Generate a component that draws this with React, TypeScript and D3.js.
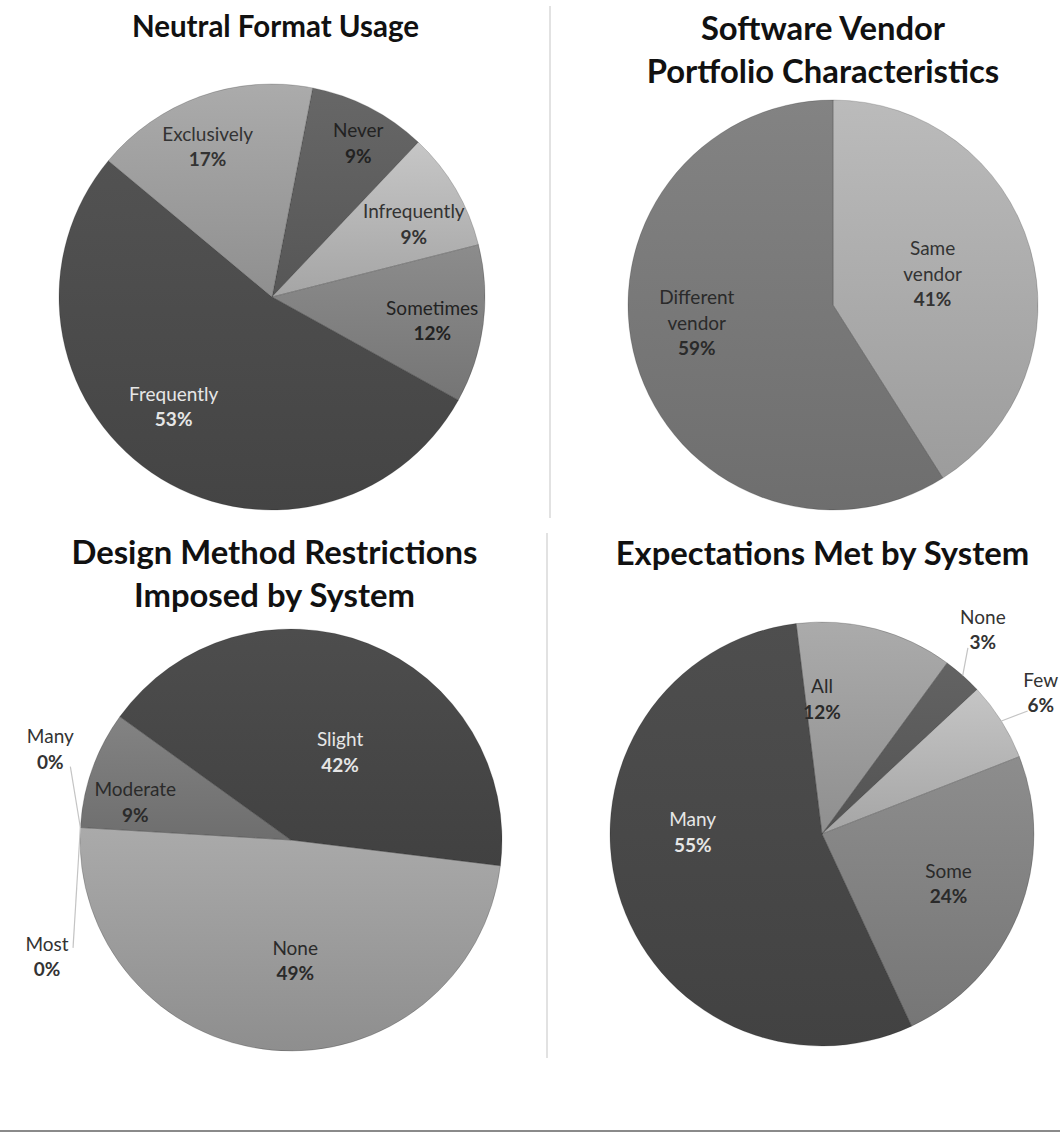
import React from "react";
import * as d3 from "d3";

// ---------- DATA ----------
const NFU_TITLE = ["Neutral Format Usage"];
const NFU_CATS = ["Never", "Infrequently", "Sometimes", "Frequently", "Exclusively"];
const NFU_VALUES = [9, 9, 12, 53, 17];

const SVP_TITLE = ["Software Vendor", "Portfolio Characteristics"];
const SVP_CATS = ["Same\nvendor", "Different\nvendor"];
const SVP_VALUES = [41, 59];

const DMR_TITLE = ["Design Method Restrictions", "Imposed by System"];
const DMR_CATS = ["None", "Most", "Many", "Moderate", "Slight"];
const DMR_VALUES = [49, 0, 0, 9, 42];

const EMS_TITLE = ["Expectations Met by System"];
const EMS_CATS = ["All", "None", "Few", "Some", "Many"];
const EMS_VALUES = [12, 3, 6, 24, 55];

// ---------- STYLE / LAYOUT ----------
const W = 1060;
const H = 1132;

type LabelPos = { r: number; da: number; lead?: [number, number]; anchorR?: number };

type ChartCfg = {
  key: string;
  title: string[];
  titleX: number;
  titleY: number;
  titleSize: number;
  cats: string[];
  values: number[];
  cx: number;
  cy: number;
  r: number;
  start: number; // degrees
  colors: string[];
  textColors: string[];
  labels: LabelPos[];
};

const charts: ChartCfg[] = [
  {
    key: "nfu",
    title: NFU_TITLE,
    titleX: 275.5,
    titleY: 37,
    titleSize: 29.5,
    cats: NFU_CATS,
    values: NFU_VALUES,
    cx: 272,
    cy: 297,
    r: 213,
    start: 11,
    colors: ["#5d5d5d", "#b3b3b3", "#7f7f7f", "#4a4a4a", "#9b9b9b"],
    textColors: ["#222", "#333", "#222", "#e6e6e6", "#333"],
    labels: [
      { r: 0.83, da: 2 },
      { r: 0.75, da: 3 },
      { r: 0.76, da: 0.8 },
      { r: 0.69, da: 7.6 },
      { r: 0.77, da: -3.5 },
    ],
  },
  {
    key: "svp",
    title: SVP_TITLE,
    titleX: 823,
    titleY: 40,
    titleSize: 32.8,
    cats: SVP_CATS,
    values: SVP_VALUES,
    cx: 833,
    cy: 305,
    r: 205,
    start: 0,
    colors: ["#a9a9a9", "#777777"],
    textColors: ["#333", "#2a2a2a"],
    labels: [
      { r: 0.51, da: -1.5 },
      { r: 0.67, da: 9 },
    ],
  },
  {
    key: "dmr",
    title: DMR_TITLE,
    titleX: 274.5,
    titleY: 564,
    titleSize: 32.8,
    cats: DMR_CATS,
    values: DMR_VALUES,
    cx: 291,
    cy: 840,
    r: 211,
    start: 97,
    colors: ["#9a9a9a", "#666666", "#888888", "#777777", "#464646"],
    textColors: ["#2a2a2a", "#333", "#333", "#2a2a2a", "#e6e6e6"],
    labels: [
      { r: 0.57, da: -7.2 },
      { r: 1.28, da: -28.8, lead: [26, -8], anchorR: 1 },
      { r: 1.22, da: 17.4, lead: [20, 18], anchorR: 1 },
      { r: 0.76, da: -5.7 },
      { r: 0.48, da: 7.6 },
    ],
  },
  {
    key: "ems",
    title: EMS_TITLE,
    titleX: 822.5,
    titleY: 565,
    titleSize: 32.8,
    cats: EMS_CATS,
    values: EMS_VALUES,
    cx: 822,
    cy: 834,
    r: 212,
    start: -7,
    colors: ["#9b9b9b", "#5a5a5a", "#b2b2b2", "#808080", "#474747"],
    textColors: ["#2a2a2a", "#333", "#333", "#2a2a2a", "#e6e6e6"],
    labels: [
      { r: 0.64, da: -14.6 },
      { r: 1.23, da: -3.5, lead: [-15, 19], anchorR: 1 },
      { r: 1.23, da: -0.8, lead: [-13, 19], anchorR: 1 },
      { r: 0.64, da: -0.6 },
      { r: 0.61, da: 17 },
    ],
  },
];

const FONT = "Lato, 'Open Sans', 'Noto Sans', sans-serif";
const rad = (d: number) => (d * Math.PI) / 180;

function PieChart({ cfg }: { cfg: ChartCfg }) {
  const start = rad(cfg.start);
  const pie = d3
    .pie<number>()
    .sort(null)
    .value((d) => d)
    .startAngle(start)
    .endAngle(start + Math.PI * 2);
  const arcs = pie(cfg.values);
  const arc = d3.arc<d3.PieArcDatum<number>>().innerRadius(0).outerRadius(cfg.r);
  const polar = (angle: number, rr: number): [number, number] => [
    cfg.cx + rr * Math.sin(angle),
    cfg.cy - rr * Math.cos(angle),
  ];

  return (
    <g>
      <defs>
        {cfg.colors.map((c, i) => {
          const col = d3.color(c)!;
          return (
            <linearGradient key={i} id={`${cfg.key}-g${i}`} x1="0" y1="0" x2="0" y2="1">
              <stop offset="0" stopColor={col.brighter(0.28).formatHex()} />
              <stop offset="1" stopColor={col.darker(0.22).formatHex()} />
            </linearGradient>
          );
        })}
      </defs>
      {cfg.title.map((t, i) => (
        <text
          key={i}
          x={cfg.titleX}
          y={cfg.titleY + i * 43}
          textAnchor="middle"
          fontFamily={FONT}
          fontWeight={700}
          fontSize={cfg.titleSize}
          fill="#111"
        >
          {t}
        </text>
      ))}
      {arcs.map((a, i) =>
        a.endAngle - a.startAngle > 0.0001 ? (
          <path
            key={i}
            d={arc(a) || ""}
            transform={`translate(${cfg.cx},${cfg.cy})`}
            fill={`url(#${cfg.key}-g${i})`}
            stroke="rgba(0,0,0,0.18)"
            strokeWidth={1}
          />
        ) : null
      )}
      {arcs.map((a, i) => {
        const lp = cfg.labels[i];
        const mid = (a.startAngle + a.endAngle) / 2;
        const ang = mid + rad(lp.da);
        const [lx, ly] = polar(ang, lp.r * cfg.r);
        const lines = cfg.cats[i].split("\n");
        const pct = `${cfg.values[i]}%`;
        const all = [...lines, pct];
        const lh = 25.5;
        const y0 = ly - ((all.length - 1) * lh) / 2;
        const outside = !!lp.lead;
        let leader = null;
        if (lp.lead) {
          const [ax, ay] = polar(mid, (lp.anchorR || 1) * cfg.r);
          leader = (
            <line
              x1={ax}
              y1={ay}
              x2={lx + lp.lead[0]}
              y2={ly + lp.lead[1]}
              stroke="#c4c4c4"
              strokeWidth={1.2}
            />
          );
        }
        return (
          <g key={`l${i}`}>
            {leader}
            {all.map((t, j) => (
              <text
                key={j}
                x={lx}
                y={y0 + j * lh}
                textAnchor="middle"
                dominantBaseline="central"
                fontFamily={FONT}
                fontSize={19}
                fontWeight={j === all.length - 1 ? 700 : 400}
                fill={outside ? "#333" : cfg.textColors[i]}
              >
                {t}
              </text>
            ))}
          </g>
        );
      })}
    </g>
  );
}

export default function App() {
  return (
    <svg
      width={W}
      height={H}
      viewBox={`0 0 ${W} ${H}`}
      style={{ position: "absolute", left: 0, top: 0, background: "#fff", display: "block" }}
    >
      <rect x={0} y={0} width={W} height={H} fill="#fff" />
      <line x1={550} y1={6} x2={550} y2={518} stroke="#e2e2e2" strokeWidth={2} />
      <line x1={547} y1={533} x2={547} y2={1058} stroke="#e2e2e2" strokeWidth={2} />
      {charts.map((c) => (
        <PieChart key={c.key} cfg={c} />
      ))}
      <line x1={0} y1={1131} x2={W} y2={1131} stroke="#8a8a8a" strokeWidth={2} />
    </svg>
  );
}
